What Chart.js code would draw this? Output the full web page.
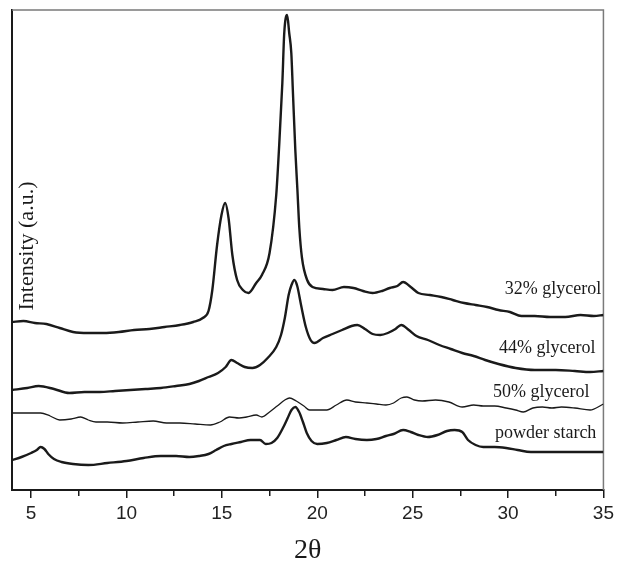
<!DOCTYPE html>
<html>
<head>
<meta charset="utf-8">
<script src="https://cdn.jsdelivr.net/npm/chart.js@4.4.1/dist/chart.umd.min.js"></script>
<style>
  html, body { margin: 0; padding: 0; background: #fff; }
  #wrap { width: 618px; height: 567px; position: relative; }
</style>
</head>
<body>
<div id="wrap"><canvas id="xrdChart"></canvas></div>
<script>
// XRD patterns (intensity in arbitrary units, curves already offset)
const theta32 = [4.0,4.6,5.2,5.8,6.5,7.2,8.0,8.8,9.6,10.4,11.2,12.0,12.8,13.5,14.0,14.3,14.5,14.75,14.98,15.17,15.35,15.55,15.8,16.1,16.4,16.8,17.1,17.5,17.85,18.0,18.17,18.27,18.42,18.53,18.64,18.72,18.85,18.96,19.06,19.2,19.47,19.75,20.3,20.8,21.4,21.9,22.4,22.9,23.4,23.8,24.2,24.5,24.9,25.3,25.9,26.5,27.1,27.7,28.3,28.9,29.5,30.1,30.7,31.4,32.2,33.0,33.8,34.5,35];
const int32 = [168,169,167,166,162,158,157,157,158,160,161,163,165,168,172,179,200,245,275,287,272,235,210,200,197,207,215,237,295,343,407,457,475,457,437,400,340,300,262,232,210,203,201,200,203,202,199,197,199,202,204,208,203,197,195,193,190,187,185,183,180,178,174,174,173,173,175,174,175];

const theta44 = [4.0,4.8,5.4,6.2,7.0,7.8,8.6,9.4,10.2,11.0,11.8,12.6,13.3,13.8,14.3,14.8,15.2,15.5,15.8,16.2,16.6,17.0,17.4,17.85,18.1,18.3,18.5,18.65,18.8,18.95,19.15,19.4,19.65,19.85,20.3,20.8,21.3,21.8,22.1,22.5,22.9,23.3,23.7,24.1,24.4,24.8,25.2,25.8,26.4,27.0,27.6,28.2,28.8,29.5,30.4,31.4,32.5,33.5,34.3,35];
const int44 = [100,102,104,101,97,98,98,99,100,101,102,104,106,109,113,117,123,130,127,123,122,125,132,143,155,172,195,205,210,204,185,163,150,147,152,156,160,164,165,161,156,155,157,161,165,160,154,150,145,141,137,134,130,126,122,120,120,119,118,119];

const theta50 = [4.0,4.8,5.5,6.0,6.5,7.1,7.6,8.0,8.4,9.0,9.8,10.6,11.4,12.1,12.8,13.6,14.4,14.9,15.4,15.9,16.3,16.8,17.1,17.5,17.9,18.3,18.55,18.9,19.3,19.6,20.0,20.5,21.0,21.55,22.0,22.6,23.1,23.6,24.0,24.4,24.7,25.1,25.5,26.2,26.9,27.6,28.2,28.7,29.3,29.9,30.4,30.8,31.3,31.8,32.3,32.8,33.5,34.3,35];
const int50 = [77,77,77,74,70,71,73,70,68,68,67,68,69,67,67,66,65,68,73,72,73,75,73,78,84,90,92,89,84,80,80,80,85,90,88,87,86,85,87,92,93,90,89,90,88,83,85,84,84,82,80,78,82,83,82,83,82,80,86];

const thetaPowder = [4.0,4.5,5.0,5.3,5.5,5.7,5.9,6.2,6.6,7.2,8.0,9.0,10.0,10.9,11.8,12.6,13.3,13.8,14.3,14.7,15.1,15.5,16.0,16.5,17.0,17.3,17.6,17.9,18.2,18.45,18.65,18.85,19.05,19.25,19.45,19.7,20.0,20.5,21.0,21.5,22.0,22.6,23.1,23.6,24.0,24.5,24.9,25.3,25.8,26.3,26.8,27.2,27.6,27.9,28.3,28.7,29.3,29.9,30.5,31.2,32.0,32.8,33.6,34.3,35];
const intPowder = [30,33,37,40,43,41,36,31,28,26,25,27,29,32,34,34,33,34,36,40,44,46,48,50,50,46,47,52,62,72,80,83,78,68,57,49,46,47,50,53,51,50,51,54,56,60,58,55,53,55,59,60,58,50,45,43,43,42,40,38,38,38,38,38,38];

const seriesNames = ['32% glycerol', '44% glycerol', '50% glycerol', 'powder starch'];
const xTicks = [5, 10, 15, 20, 25, 30, 35];

// where each curve's label sits (right end, baseline) in data units
const labelSpots = [
    { x: 34.89, y: 196 },
    { x: 34.58, y: 137 },
    { x: 34.27, y: 93 },
    { x: 34.63, y: 52 }
];

const ink = '#1a1a1a';

function toPoints(xs, ys) {
    return xs.map((x, i) => ({ x: x, y: ys[i] }));
}

function makeSet(name, xs, ys, width) {
    return {
        label: name,
        data: toPoints(xs, ys),
        borderColor: ink,
        borderWidth: width,
        pointRadius: 0,
        fill: false,
        cubicInterpolationMode: 'monotone'
    };
}

// frame, curve labels and the y title
const annotate = {
    id: 'annotate',
    beforeDatasetsDraw(chart) {
        const { ctx, chartArea: a } = chart;
        ctx.save();
        ctx.strokeStyle = '#7a7a7a';
        ctx.lineWidth = 1.5;
        ctx.beginPath();
        ctx.moveTo(a.left, a.top);
        ctx.lineTo(a.right, a.top);
        ctx.lineTo(a.right, a.bottom);
        ctx.stroke();
        ctx.restore();
    },
    afterDraw(chart) {
        const { ctx, scales } = chart;
        ctx.save();
        ctx.fillStyle = ink;
        ctx.font = '18px "Liberation Serif"';
        ctx.textAlign = 'right';
        ctx.textBaseline = 'alphabetic';
        seriesNames.forEach((name, i) => {
            const s = labelSpots[i];
            ctx.fillText(name, scales.x.getPixelForValue(s.x), scales.y.getPixelForValue(s.y));
        });

        ctx.translate(33, 246);
        ctx.rotate(-Math.PI / 2);
        ctx.textAlign = 'center';
        ctx.font = '22px "Liberation Serif"';
        ctx.fillText('Intensity (a.u.)', 0, 0);
        ctx.restore();
    }
};

const ctx = document.getElementById('xrdChart').getContext('2d');

new Chart(ctx, {
    type: 'line',
    data: {
        datasets: [
            makeSet(seriesNames[0], theta32, int32, 2.4),
            makeSet(seriesNames[1], theta44, int44, 2.4),
            makeSet(seriesNames[2], theta50, int50, 1.3),
            makeSet(seriesNames[3], thetaPowder, intPowder, 2.4)
        ]
    },
    options: {
        responsive: true,
        maintainAspectRatio: false,
        animation: false,
        devicePixelRatio: 1,
        layout: {
            padding: { left: 12, right: 13, top: 10, bottom: 0 }
        },
        plugins: {
            legend: { display: false },
            tooltip: { enabled: false }
        },
        scales: {
            x: {
                type: 'linear',
                min: 4,
                max: 35,
                afterFit(scale) { scale.height = 77; },
                border: { display: true, color: ink, width: 2 },
                grid: {
                    display: true,
                    drawOnChartArea: false,
                    drawTicks: true,
                    tickLength: 8,
                    color: ink,
                    lineWidth: 1.5,
                    // minor ticks are shorter
                    tickBorderDash: (c) => (xTicks.includes(c.tick && c.tick.value) ? [] : [5, 60])
                },
                ticks: {
                    stepSize: 2.5,
                    includeBounds: false,
                    autoSkip: false,
                    maxRotation: 0,
                    padding: 4,
                    color: '#222',
                    font: { family: 'Liberation Sans', size: 19 },
                    callback: (v) => (xTicks.includes(v) ? String(v) : '')
                },
                title: {
                    display: true,
                    text: '2θ',
                    color: ink,
                    font: { family: 'Liberation Serif', size: 28 },
                    padding: { top: 0, bottom: 0 }
                }
            },
            y: {
                min: 0,
                max: 480,
                afterFit(scale) { scale.width = 0; },
                border: { display: true, color: ink, width: 2 },
                grid: { display: false },
                ticks: { display: false }
            }
        }
    },
    plugins: [annotate]
});
</script>
</body>
</html>
